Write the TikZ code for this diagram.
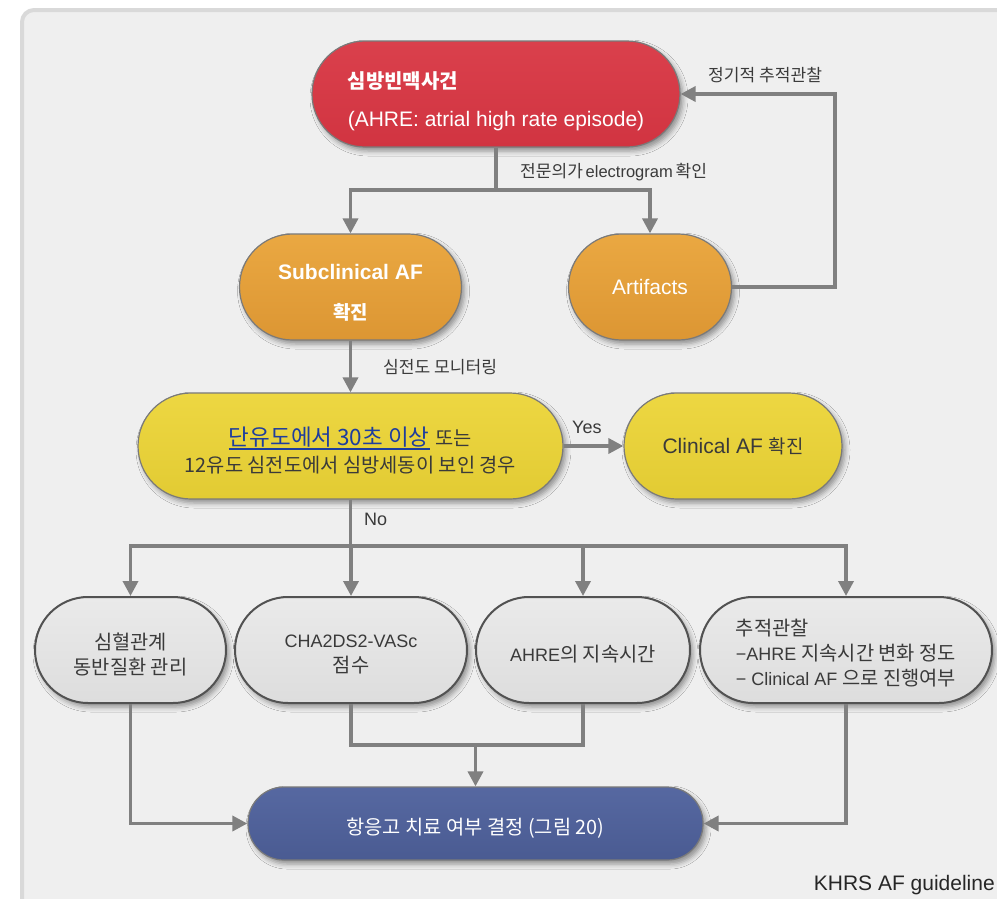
\documentclass[tikz,border=0pt]{standalone}
\usepackage{fontspec}
\setmainfont{Liberation Sans}
\newfontfamily\krfont{Noto Sans CJK KR}[Scale=0.9]
\newfontfamily\krfontbig{Noto Sans CJK KR}[Scale=1.1]
\newcommand\kr[1]{{\krfont #1}}
\newcommand\krb[1]{{\krfontbig #1}}
% underline with a thicker bar than \underline gives
\newsavebox\ulbarbox
\newcommand\ulbar[1]{\sbox\ulbarbox{#1}\rlap{\rule[-4.5pt]{\wd\ulbarbox}{1.7pt}}\usebox\ulbarbox}
\usetikzlibrary{arrows.meta,shadows.blur}
\definecolor{panelbg}{HTML}{EFEFEF}
\definecolor{panelrim}{HTML}{D9D9D9}
\definecolor{wire}{HTML}{808080}
\definecolor{rim}{HTML}{7A7A7A}
\definecolor{redtop}{HTML}{DA404C}
\definecolor{redbot}{HTML}{D13441}
\definecolor{orangetop}{HTML}{EAA842}
\definecolor{orangebot}{HTML}{DC9633}
\definecolor{yellowtop}{HTML}{EDD742}
\definecolor{yellowbot}{HTML}{E2CB33}
\definecolor{greytop}{HTML}{EAEAEA}
\definecolor{greybot}{HTML}{DDDDDD}
\definecolor{bluetop}{HTML}{5668A1}
\definecolor{bluebot}{HTML}{4A5B92}
\definecolor{ink}{HTML}{3A3A3A}
\definecolor{linkblue}{HTML}{1E3D9E}
\begin{document}
\begin{tikzpicture}[x=1pt,y=-1pt,
  box/.style={draw=rim, line width=1.2pt, inner sep=0pt, minimum height=106pt,
    rounded corners=53pt, align=center,
    blur shadow={shadow xshift=3pt, shadow yshift=-4pt, shadow blur radius=5pt, shadow opacity=40}},
  redbox/.style={box, top color=redtop, bottom color=redbot, text=white},
  orangebox/.style={box, top color=orangetop, bottom color=orangebot, text=white},
  yellowbox/.style={box, top color=yellowtop, bottom color=yellowbot, text=ink},
  greybox/.style={box, draw=black!68, line width=2pt, top color=greytop, bottom color=greybot,
    text=ink, font=\fontsize{18}{25}\selectfont},
  bluebox/.style={box, minimum height=73pt, rounded corners=36pt, top color=bluetop, bottom color=bluebot, text=white},
  wireline/.style={draw=wire, line width=3.5pt},
  arrowline/.style={wireline, -{Triangle[length=15pt,width=15pt]}},
  note/.style={inner sep=0pt, text=ink, anchor=west},
]
\clip (0,0) rectangle (997,898);
% panel behind the chart
\draw[fill=panelbg, draw=panelrim, line width=4pt, rounded corners=12pt] (22,10) rectangle (1030,930);

% nodes (the zero-width rules lower the text block inside each shape)
\node[redbox, minimum width=368pt, align=left, font=\fontsize{21}{38}\selectfont] (red) at (496,94)
  {\rule{0pt}{31pt}{\krfont\fontsize{22.2}{38}\selectfont\bfseries 심방빈맥사건}\\(AHRE: atrial high rate episode)};
\node[orangebox, minimum width=222pt, font=\bfseries\fontsize{21}{40}\selectfont] (sub) at (350.5,287)
  {\rule{0pt}{27pt}Subclinical AF\\\kr{확진}};
\node[orangebox, minimum width=163pt, font=\fontsize{21}{25}\selectfont] (art) at (650,287) {Artifacts};
\node[yellowbox, minimum width=425pt, font=\fontsize{22}{27}\selectfont] (yel) at (350.5,446)
  {\rule{0pt}{27pt}{\fontsize{25}{27}\selectfont\color{linkblue}\ulbar{\kr{단유도에서 30초 이상}}} \kr{또는}\\
   \kr{12유도 심전도에서 심방세동이 보인 경우}};
\node[yellowbox, minimum width=218pt, font=\fontsize{21}{25}\selectfont] (clin) at (733,446)
  {Clinical AF \kr{확진}};

\node[greybox, minimum width=191pt] (ba) at (130.5,650) {\rule{0pt}{25pt}\krb{심혈관계}\\\krb{동반질환 관리}};
\node[greybox, minimum width=232pt] (bb) at (351,650) {\rule{0pt}{22pt}CHA2DS2-VASc\\\krb{점수}};
\node[greybox, minimum width=214pt] (bc) at (583,650) {\rule{0pt}{24pt}AHRE\krb{의 지속시간}};
\node[greybox, minimum width=292pt, align=left] (bd) at (846,650)
  {\rule{0pt}{22pt}\krb{추적관찰}\\−AHRE \krb{지속시간 변화 정도}\\− Clinical AF \krb{으로 진행여부}};

\node[bluebox, minimum width=455pt, font=\fontsize{22}{26}\selectfont] (blue) at (475.5,823.5)
  {\rule{0pt}{25pt}\kr{항응고 치료 여부 결정 (그림 20)}};

% routing points
\coordinate (fork1) at (496,190);
\coordinate (loop) at (835,94);
\coordinate (fork2) at (350.5,546);
\coordinate (merge) at (475.5,745);

% connectors
\draw[wireline] (red.south) -- (fork1);
\draw[arrowline] (fork1) -| (sub.north);
\draw[arrowline] (fork1) -| (art.north);
\draw[arrowline] (art.east) -| (loop) -- (red.east);
\draw[arrowline] (sub.south) -- (yel.north);
\draw[arrowline] (yel.east) -- (clin.west);
\draw[wireline] (yel.south) -- (fork2);
\draw[arrowline] (fork2) -| (ba.north);
\draw[arrowline] (fork2) -| (bb.north);
\draw[arrowline] (fork2) -| (bc.north);
\draw[arrowline] (fork2) -| (bd.north);
\draw[arrowline] (ba.south) |- (blue.west);
\draw[arrowline] (bd.south) |- (blue.east);
\draw[wireline] (bb.south) |- (merge);
\draw[wireline] (bc.south) |- (merge);
\draw[arrowline] (merge) -- (blue.north);

% connector labels
\node[note, font=\fontsize{16.5}{18}\selectfont] (lbl1) at (520,172)
  {{\krfontbig\fontsize{15.5}{18}\selectfont 전문의가}\,electrogram\,{\krfontbig\fontsize{15.5}{18}\selectfont 확인}};
\node[note, font=\fontsize{19}{22}\selectfont] (lbl2) at (708,75) {\kr{정기적 추적관찰}};
\node[note, font=\fontsize{19}{22}\selectfont] (lbl3) at (383,367) {\kr{심전도 모니터링}};
\node[note, font=\fontsize{18}{20}\selectfont] (lblyes) at (572,427) {Yes};
\node[note, font=\fontsize{18}{20}\selectfont] (lblno) at (364,519) {No};
\node[inner sep=0pt, anchor=east, text=black!85, font=\fontsize{21}{24}\selectfont] (src) at (995,885) {KHRS AF guideline};
\end{tikzpicture}
\end{document}
